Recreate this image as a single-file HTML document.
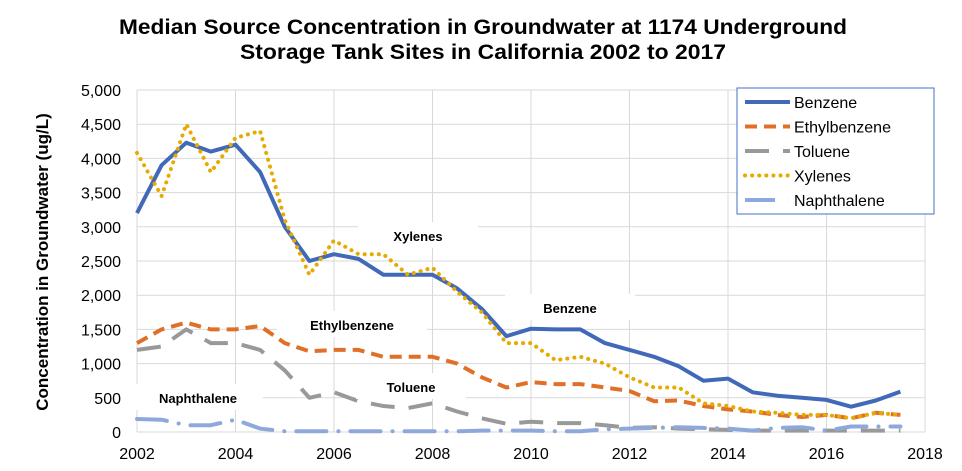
<!DOCTYPE html>
<html><head><meta charset="utf-8"><style>
body{margin:0;background:#fff;width:962px;height:466px;overflow:hidden;font-family:"Liberation Sans",Arial,sans-serif}
</style></head><body>
<svg id="chart" width="962" height="466" xmlns="http://www.w3.org/2000/svg" font-family="Liberation Sans, Arial, sans-serif">
<text x="483" y="34" text-anchor="middle" font-size="21" font-weight="bold" textLength="728" lengthAdjust="spacingAndGlyphs">Median Source Concentration in Groundwater at 1174 Underground</text>
<text x="483" y="59" text-anchor="middle" font-size="21" font-weight="bold" textLength="486" lengthAdjust="spacingAndGlyphs">Storage Tank Sites in California 2002 to 2017</text>
<text transform="translate(48,262) rotate(-90)" text-anchor="middle" font-size="17" font-weight="bold">Concentration in Groundwater (ug/L)</text>
<g id="grid"></g><g id="ticks"></g><g id="series"></g><g id="labels"></g>
<g>
<rect x="737" y="88" width="197" height="126" fill="#fff" stroke="#4472c4" stroke-width="1"/>
</g><g id="legend"></g>
</svg>
<script>
const years=[];for(let i=0;i<32;i++)years.push(2002+i*0.5);
const benzene=[3200,3900,4230,4100,4200,3800,3000,2500,2600,2530,2300,2300,2300,2100,1800,1400,1510,1500,1500,1300,1200,1100,960,750,780,580,530,500,470,370,460,590];
const ethylbenzene=[1300,1500,1600,1500,1500,1550,1300,1180,1200,1200,1100,1100,1100,1000,800,650,730,700,700,650,600,450,460,380,330,300,250,220,250,200,280,250];
const toluene=[1200,1250,1500,1300,1300,1200,900,500,580,450,380,350,420,300,200,120,150,130,130,100,60,70,50,40,30,20,20,20,20,20,20,20];
const xylenes=[4080,3450,4500,3800,4300,4400,3100,2300,2800,2600,2600,2300,2400,2050,1750,1300,1300,1050,1100,1000,800,650,650,420,380,300,280,250,250,200,280,250];
const naphthalene=[190,180,100,100,180,50,10,10,10,10,10,10,10,10,20,20,20,10,10,40,50,60,70,60,50,20,60,70,20,80,80,80];
const yTicks=[0,500,1000,1500,2000,2500,3000,3500,4000,4500,5000];
const xTicks=[2002,2004,2006,2008,2010,2012,2014,2016,2018];
const X=y=>137+(y-2002)*49.25, Y=v=>432-v*0.0684;
const NS="http://www.w3.org/2000/svg";
function mk(t,a,p){const e=document.createElementNS(NS,t);for(const k in a)e.setAttribute(k,a[k]);p.appendChild(e);return e;}
const grid=document.getElementById('grid'),ticks=document.getElementById('ticks');
yTicks.forEach(v=>{const l=mk('line',{x1:137,x2:925,y1:Y(v),y2:Y(v),stroke:'#d9d9d9'},grid);


const t=mk('text',{x:121,y:Y(v)+6,'text-anchor':'end','font-size':16},ticks);t.textContent=v.toLocaleString('en-US');

});
xTicks.forEach(v=>{const l=mk('line',{x1:X(v),x2:X(v),y1:Y(5000),y2:Y(0),stroke:'#d9d9d9'},grid);


const t=mk('text',{x:X(v),y:459,'text-anchor':'middle','font-size':16},ticks);t.textContent=v;

});
const specs=[
['Benzene',benzene,'#4169b8','',4],
['Ethylbenzene',ethylbenzene,'#e07028','12,7',4],
['Toluene',toluene,'#999999','24,14',4],
['Xylenes',xylenes,'#e6aa00','0.1,7',4],
['Naphthalene',naphthalene,'#8fa8dc','30,12,0.1,12',4]];
const sg=document.getElementById('series'),lg=document.getElementById('legend');
specs.forEach((s,i)=>{const d=s[1].map((v,j)=>(j?'L':'M')+X(years[j]).toFixed(1)+','+Y(v).toFixed(1)).join(' ');
const p=mk('path',{d:d,fill:'none',stroke:s[2],'stroke-width':s[4],'stroke-dasharray':s[3],'stroke-linecap':s[3]==='0.1,7'||i===4?'round':'butt','stroke-linejoin':'round'},sg);


const ly=102+i*24.5;
const ll=mk('line',{x1:745,x2:790,y1:ly,y2:ly,stroke:s[2],'stroke-width':4,'stroke-dasharray':s[3],'stroke-linecap':s[3]==='0.1,7'?'round':'butt'},lg);


const lt=mk('text',{x:794,y:ly+6,'font-size':16},lg);lt.textContent=s[0];

});
const lab=document.getElementById('labels');
[['Xylenes',418,236,120],['Ethylbenzene',352,325,150],['Toluene',411,387,110],['Naphthalene',198,398,130],['Benzene',570,308,130]].forEach(a=>{
const r=mk('rect',{x:a[1]-a[3]/2,y:a[2]-14,width:a[3],height:26,fill:'#fff'},lab);


const t=mk('text',{x:a[1],y:a[2]+5,'text-anchor':'middle','font-size':13,'font-weight':'bold'},lab);t.textContent=a[0];

});
</script>
</body></html>
